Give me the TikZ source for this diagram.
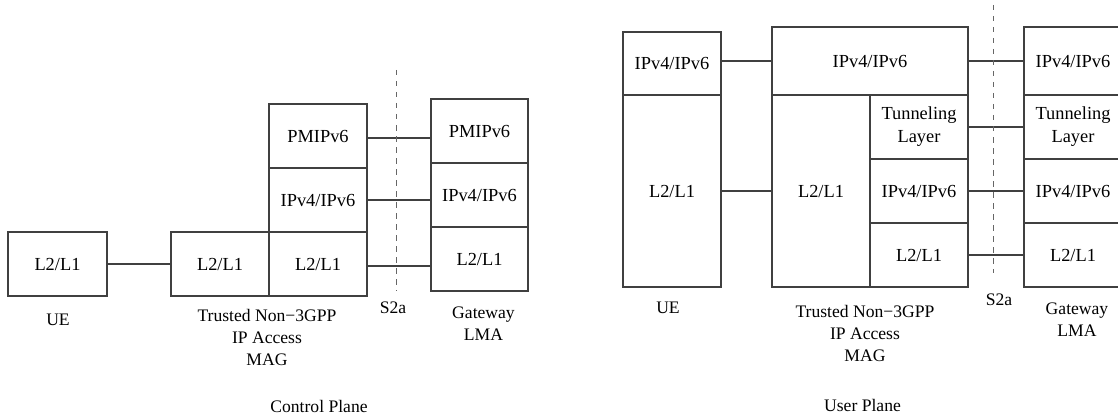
\documentclass[tikz,border=0pt]{standalone}
\usepackage{fontspec}
\setmainfont{Liberation Serif}
\usetikzlibrary{positioning}

\tikzset{
  layer/.style={draw=black!75, line width=0.6pt, inner sep=0pt, align=center,
    minimum width=49pt, minimum height=32pt,
    font=\fontsize{9.2}{11.5}\selectfont},
  caption/.style={inner sep=0pt, align=center, font=\fontsize{8.8}{11}\selectfont},
  link/.style={draw=black!75, line width=0.6pt},
  cut/.style={draw=black!60, line width=0.6pt, dash pattern=on 2.75pt off 2.75pt}
}

\begin{document}
\begin{tikzpicture}[x=0.5pt, y=-0.5pt]
      \useasboundingbox (0,0) rectangle (1118,417);

      % Control plane
      \node[layer, minimum width=49.5pt] (cUE) at (57.5,264) {L2/L1};
      \node[layer] (cMagAcc) at (220,264) {L2/L1};
      \node[layer] (cMagL2) at (318,264) {L2/L1};
      \node[layer] (cMagIP) at (318,200) {IPv4/IPv6};
      \node[layer] (cMagPM) at (318,136) {PMIPv6};
      \node[layer, minimum width=48.5pt] (cGwPM) at (479.5,131) {PMIPv6};
      \node[layer, minimum width=48.5pt] (cGwIP) at (479.5,195) {IPv4/IPv6};
      \node[layer, minimum width=48.5pt] (cGwL2) at (479.5,259) {L2/L1};

      \draw[link] (cUE) -- (cMagAcc);
      \draw[link] ([yshift=-1pt]cMagPM.east) -- ([yshift=-1pt]cMagPM.east -| cGwPM.west);
      \draw[link] (cMagIP.east) -- (cMagIP.east -| cGwIP.west);
      \draw[link] ([yshift=-1pt]cMagL2.east) -- ([yshift=-1pt]cMagL2.east -| cGwL2.west);

      \coordinate (cS2aTop) at (396.5,70);
      \coordinate (cS2aBot) at (396.5,291);
      \draw[cut] (cS2aTop) -- (cS2aBot);

      \node[caption] (cS2a) at (393,308) {S2a};
      \node[caption] (cUElbl) at (58,320) {UE};
      \node[caption] (cMaglbl) at (267,337) {Trusted Non−3GPP\\IP Access\\MAG};
      \node[caption] (cGwlbl) at (483.5,324) {Gateway\\LMA};
      \node[caption] (cPlane) at (319,406) {Control Plane};

      % User plane
      \node[layer, minimum height=31.5pt] (uUEip) at (672,63.5) {IPv4/IPv6};
      \node[layer, minimum height=96pt] (uUEl2) at (672,191) {L2/L1};
      \node[layer, minimum width=98pt, minimum height=34pt] (uMagIP) at (870,61) {IPv4/IPv6};
      \node[layer, minimum height=96pt] (uMagAcc) at (821,191) {L2/L1};
      \node[layer] (uMagTun) at (919,127) {Tunneling\\Layer};
      \node[layer] (uMagIP2) at (919,191) {IPv4/IPv6};
      \node[layer] (uMagL2) at (919,255) {L2/L1};
      \node[layer, minimum height=34pt] (uGwIP) at (1073,61) {IPv4/IPv6};
      \node[layer] (uGwTun) at (1073,127) {Tunneling\\Layer};
      \node[layer] (uGwIP2) at (1073,191) {IPv4/IPv6};
      \node[layer] (uGwL2) at (1073,255) {L2/L1};

      \draw[link] (uMagIP.west -| uUEip.east) -- (uMagIP.west);
      \draw[link] (uUEl2) -- (uMagAcc);
      \draw[link] (uMagIP) -- (uGwIP);
      \draw[link] (uMagTun) -- (uGwTun);
      \draw[link] (uMagIP2) -- (uGwIP2);
      \draw[link] (uMagL2) -- (uGwL2);

      \coordinate (uS2aTop) at (993.5,5);
      \coordinate (uS2aBot) at (993.5,273);
      \draw[cut] (uS2aTop) -- (uS2aBot);

      \node[caption] (uS2a) at (999,300) {S2a};
      \node[caption] (uUElbl) at (668,308) {UE};
      \node[caption] (uMaglbl) at (865,333) {Trusted Non−3GPP\\IP Access\\MAG};
      \node[caption] (uGwlbl) at (1077,320) {Gateway\\LMA};
      \node[caption] (uPlane) at (862.5,405) {User Plane};
    \end{tikzpicture}
\end{document}
